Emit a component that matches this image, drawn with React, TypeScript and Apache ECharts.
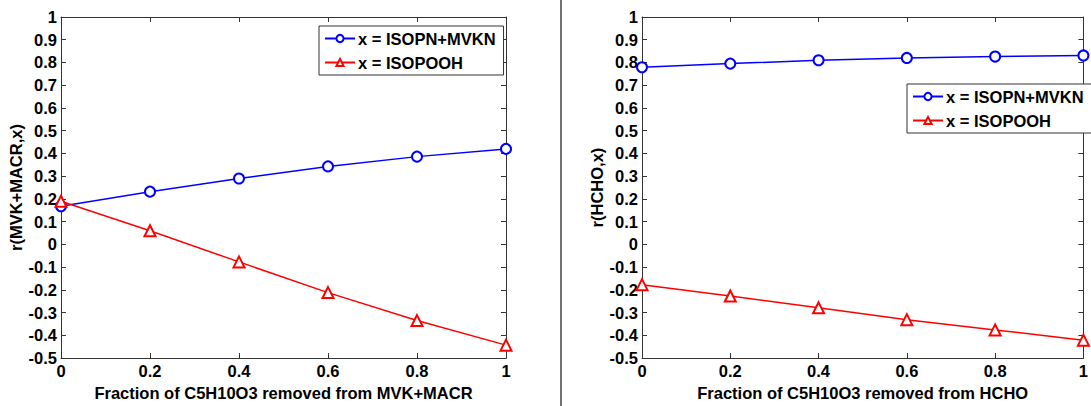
import React, { useEffect, useRef } from "react";
import * as echarts from "echarts";

const xValues = [0, 0.2, 0.4, 0.6, 0.8, 1];
const leftIsopn = [0.168, 0.232, 0.29, 0.343, 0.386, 0.42];
const leftIsopooh = [0.19, 0.06, -0.077, -0.212, -0.335, -0.443];
const rightIsopn = [0.779, 0.795, 0.81, 0.82, 0.826, 0.831];
const rightIsopooh = [-0.177, -0.227, -0.279, -0.331, -0.376, -0.421];

const seriesNames = ["x = ISOPN+MVKN", "x = ISOPOOH"];
const leftYTitle = "r(MVK+MACR,x)";
const rightYTitle = "r(HCHO,x)";
const leftXTitle = "Fraction of C5H10O3 removed from MVK+MACR";
const rightXTitle = "Fraction of C5H10O3 removed from HCHO";

const FONT = "'Liberation Sans', Arial, sans-serif";
const AXIS_COLOR = "#333";

const fmt = (v: number) => {
  const r = Math.round(v * 10) / 10;
  return String(r === 0 ? 0 : r);
};

const labelStyle = {
  fontFamily: FONT,
  fontWeight: "bold" as const,
  fontSize: 16.5,
  color: "#000",
};

function mkX(gridIndex: number, name: string, top: boolean) {
  return {
    type: "value",
    gridIndex,
    min: 0,
    max: 1,
    interval: 0.2,
    position: top ? "top" : "bottom",
    name: top ? "" : name,
    nameLocation: "middle",
    nameGap: 22,
    nameTextStyle: labelStyle,
    axisLine: { show: true, onZero: false, lineStyle: { color: AXIS_COLOR, width: 1 } },
    axisTick: { show: true, inside: true, length: 5, lineStyle: { color: AXIS_COLOR } },
    axisLabel: { show: !top, margin: 4, formatter: fmt, ...labelStyle },
    splitLine: { show: false },
  };
}

function mkY(gridIndex: number, name: string, right: boolean) {
  return {
    type: "value",
    gridIndex,
    min: -0.5,
    max: 1,
    interval: 0.1,
    position: right ? "right" : "left",
    name: right ? "" : name,
    nameLocation: "middle",
    nameGap: 34,
    nameTextStyle: labelStyle,
    axisLine: { show: true, onZero: false, lineStyle: { color: AXIS_COLOR, width: 1 } },
    axisTick: { show: true, inside: true, length: 5, lineStyle: { color: AXIS_COLOR } },
    axisLabel: { show: !right, margin: 4, formatter: fmt, ...labelStyle },
    splitLine: { show: false },
  };
}

function mkSeries(name: string, idx: number, data: number[], blue: boolean) {
  const color = blue ? "#0000ff" : "#ff0000";
  return {
    type: "line",
    name,
    xAxisIndex: idx,
    yAxisIndex: idx,
    data: xValues.map((x, i) => [x, data[i]]),
    symbol: blue ? "emptyCircle" : "emptyTriangle",
    symbolSize: blue ? 10 : 11,
    showSymbol: true,
    lineStyle: { color, width: 1.5 },
    itemStyle: { color, borderColor: color, borderWidth: 1.5 },
    emphasis: { disabled: true },
  };
}

function mkLegend(left: number, top: number) {
  return {
    data: seriesNames,
    orient: "vertical",
    left,
    top,
    itemWidth: 30,
    itemHeight: 9,
    itemGap: 7,
    padding: [4, 8, 4, 5],
    borderColor: AXIS_COLOR,
    borderWidth: 1,
    borderRadius: 0,
    backgroundColor: "#fff",
    selectedMode: false,
    textStyle: { ...labelStyle, padding: [0, 0, 0, -2] },
  };
}

export default function App() {
  const ref = useRef<HTMLDivElement>(null);
  useEffect(() => {
    if (!ref.current) return;
    const chart = echarts.init(ref.current, undefined, { renderer: "svg" });
    chart.setOption({
      animation: false,
      backgroundColor: "#fff",
      grid: [
        { left: 61, top: 17, width: 445, height: 352 },
        { left: 642, top: 17, width: 446, height: 352 },
      ],
      xAxis: [
        mkX(0, leftXTitle, false),
        mkX(1, rightXTitle, false),
        mkX(0, "", true),
        mkX(1, "", true),
      ],
      yAxis: [
        mkY(0, leftYTitle, false),
        mkY(1, rightYTitle, false),
        mkY(0, "", true),
        mkY(1, "", true),
      ],
      legend: [mkLegend(319, 26), mkLegend(907, 84)],
      series: [
        mkSeries(seriesNames[0], 0, leftIsopn, true),
        mkSeries(seriesNames[1], 0, leftIsopooh, false),
        mkSeries(seriesNames[0], 1, rightIsopn, true),
        mkSeries(seriesNames[1], 1, rightIsopooh, false),
      ],
      graphic: [
        {
          type: "line",
          shape: { x1: 561, y1: 0, x2: 561, y2: 406 },
          style: { stroke: "#444", lineWidth: 1.5 },
          silent: true,
        },
      ],
    });
    return () => chart.dispose();
  }, []);
  return (
    <div
      ref={ref}
      style={{ position: "fixed", left: 0, top: 0, width: 1091, height: 406 }}
    />
  );
}
